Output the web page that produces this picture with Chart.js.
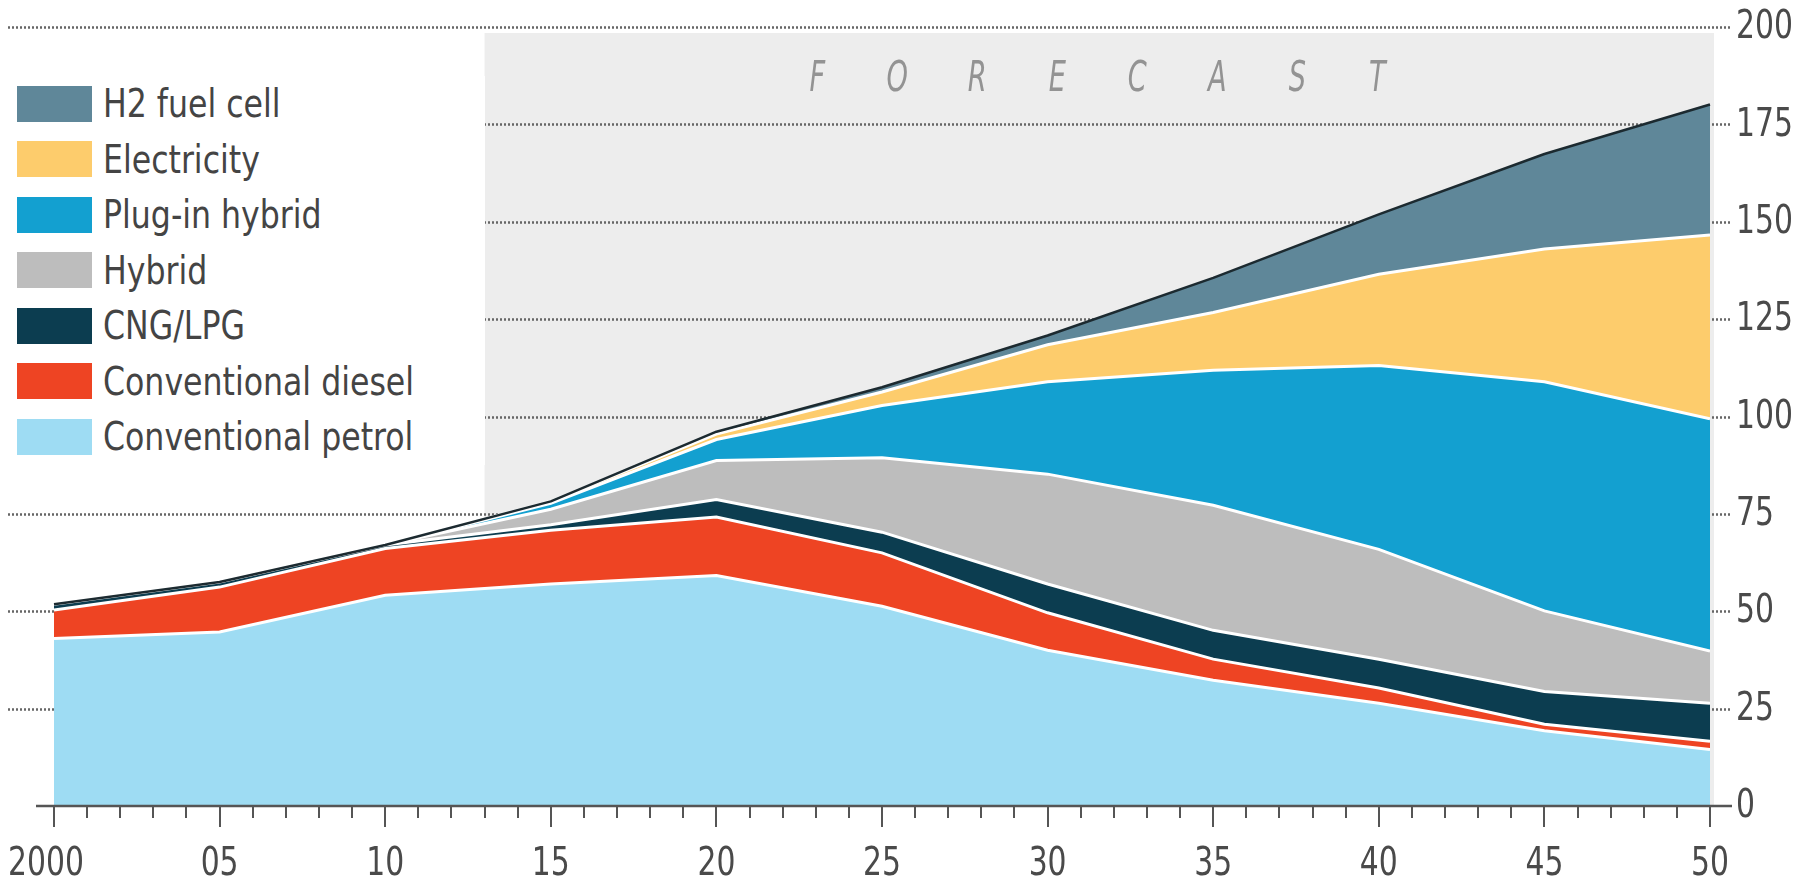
<!DOCTYPE html>
<html>
<head>
<meta charset="utf-8">
<script src="https://cdn.jsdelivr.net/npm/chart.js@4.4.1/dist/chart.umd.min.js"></script>
<style>
  body { margin: 0; background: #fff; }
  #wrap { position: relative; width: 1813px; height: 887px; }
  #legend {
    position: absolute; left: 0; top: 76px; background: #fff;
    font-family: "DejaVu Sans Condensed", "Liberation Sans Narrow", Roboto, sans-serif;
    font-size: 39px; color: #444;
  }
  .row { display: flex; align-items: center; height: 55.5px; white-space: nowrap; }
  .sw { width: 75px; height: 36px; margin-left: 17px; margin-right: 11px; flex: none; }
  .tx { display: inline-block; transform: scaleX(0.9); transform-origin: left center; }
</style>
</head>
<body>
<div id="wrap">
  <canvas id="chart" width="1813" height="887"></canvas>
  <div id="legend"></div>
</div>
<script>
// data (vehicles, m)
const years = [2000, 2005, 2010, 2015, 2020, 2025, 2030, 2035, 2040, 2045, 2050];
const xTickLabels = ["2000", "05", "10", "15", "20", "25", "30", "35", "40", "45", "50"];
const yTicks = [0, 25, 50, 75, 100, 125, 150, 175, 200];
const forecastStart = 2013;

const petrol      = [43, 44.7, 54.1, 57, 59.2, 51.3, 40, 32.3, 26.4, 19.3, 14.5];
const diesel      = [7.3, 11.5, 12, 13.8, 15, 13.7, 9.6, 5.4, 3.9, 1.7, 2.1];
const cngLpg      = [1.5, 1.3, 0.9, 1.4, 4.5, 5.3, 7.4, 7.4, 7.4, 8.4, 9.8];
const hybrid      = [0, 0, 0, 4, 10, 19.1, 28.2, 32.1, 28.2, 20.7, 13.4];
const plugIn      = [0, 0, 0, 1.5, 5.4, 13.4, 23.7, 34.7, 47.2, 58.8, 59.6];
const electricity = [0, 0, 0, 0.5, 1.4, 3.5, 9.5, 14.8, 23.4, 34.1, 47.2];
const h2          = [0, 0, 0, 0, 0.6, 1.2, 2.4, 8.9, 15.4, 24.4, 33.5];

const seriesNames  = ["Conventional petrol", "Conventional diesel", "CNG/LPG", "Hybrid", "Plug-in hybrid", "Electricity", "H2 fuel cell"];
const seriesValues = [petrol, diesel, cngLpg, hybrid, plugIn, electricity, h2];
const seriesColors = ["#9edcf3", "#ee4423", "#0c3d50", "#bdbdbd", "#13a0d0", "#fdcc6c", "#5f8799"];

const FONT = '"DejaVu Sans Condensed", "Liberation Sans Narrow", Roboto, sans-serif';

const datasets = seriesNames.map((name, i) => {
  const vals = seriesValues[i];
  const last = i === seriesNames.length - 1;
  return {
    label: name,
    data: years.map((y, j) => ({ x: y, y: vals[j] })),
    backgroundColor: seriesColors[i],
    borderColor: "#fff",
    borderWidth: last ? 0 : 3,
    fill: i === 0 ? "origin" : "-1",
    pointRadius: 0,
    tension: 0,
    segment: {
      borderColor: (ctx) =>
        vals[ctx.p0DataIndex] === 0 && vals[ctx.p1DataIndex] === 0 ? "rgba(0,0,0,0)" : "#fff",
    },
  };
});

// condensed text: draw with a horizontal squeeze
function squeezed(ctx, text, x, y, sx) {
  ctx.save();
  ctx.translate(x, y);
  ctx.scale(sx, 1);
  ctx.fillText(text, 0, 0);
  ctx.restore();
}

// forecast band, dotted grid, axis ticks, labels and total outline
const decor = {
  id: "decor",
  beforeDraw(chart) {
    const { ctx, chartArea, scales } = chart;
    const xs = scales.x, ys = scales.y;
    ctx.save();
    const fx = xs.getPixelForValue(forecastStart);
    const top = ys.getPixelForValue(200) + 6;
    ctx.fillStyle = "#ededed";
    ctx.fillRect(fx, top, xs.getPixelForValue(2050) + 4 - fx, ys.getPixelForValue(0) - top);

    ctx.strokeStyle = "#666";
    ctx.lineWidth = 2.5;
    ctx.setLineDash([2, 2]);
    yTicks.forEach((v) => {
      if (v === 0) return;
      const py = Math.round(ys.getPixelForValue(v)) + 0.5;
      ctx.beginPath();
      ctx.moveTo(8, py);
      ctx.lineTo(chartArea.right + 22, py);
      ctx.stroke();
    });
    ctx.setLineDash([]);

    ctx.fillStyle = "#939393";
    ctx.font = "italic 42px " + FONT;
    ctx.textAlign = "center";
    ctx.textBaseline = "middle";
    const word = "FORECAST";
    const mid = (fx + chartArea.right) / 2;
    const step = 80;
    for (let k = 0; k < word.length; k++) {
      squeezed(ctx, word[k], mid + (k - (word.length - 1) / 2) * step, 80, 0.72);
    }
    ctx.restore();
  },
  afterDatasetsDraw(chart) {
    const { ctx, chartArea, scales } = chart;
    const xs = scales.x, ys = scales.y;
    ctx.save();
    // outline of the total
    const meta = chart.getDatasetMeta(chart.data.datasets.length - 1);
    ctx.strokeStyle = "#1c2a30";
    ctx.lineWidth = 2.5;
    ctx.lineJoin = "round";
    ctx.beginPath();
    meta.data.forEach((p, i) => (i ? ctx.lineTo(p.x, p.y) : ctx.moveTo(p.x, p.y)));
    ctx.stroke();

    // x axis line and tick marks
    const by = ys.getPixelForValue(0);
    ctx.strokeStyle = "#555";
    ctx.lineWidth = 2.5;
    ctx.beginPath();
    ctx.moveTo(36, by);
    ctx.lineTo(chartArea.right + 22, by);
    ctx.stroke();
    ctx.lineWidth = 2;
    for (let yr = 2000; yr <= 2050; yr++) {
      const px = Math.round(xs.getPixelForValue(yr));
      ctx.beginPath();
      ctx.moveTo(px, by);
      ctx.lineTo(px, by + (yr % 5 === 0 ? 21 : 12));
      ctx.stroke();
    }

    // tick labels
    ctx.fillStyle = "#4a4a4a";
    ctx.font = "39px " + FONT;
    ctx.textBaseline = "middle";
    ctx.textAlign = "center";
    xs.ticks.forEach((t, i) => {
      const lab = xTickLabels[years.indexOf(t.value)];
      if (lab === undefined) return;
      const shift = i === 0 ? -8 : 0;
      squeezed(ctx, lab, xs.getPixelForTick(i) + shift, 865, 0.85);
    });
    ctx.textAlign = "left";
    yTicks.forEach((v) => {
      squeezed(ctx, String(v), chartArea.right + 26, ys.getPixelForValue(v) + 1, 0.85);
    });
    ctx.restore();
  },
};

const chart = new Chart(document.getElementById("chart"), {
  type: "line",
  data: { datasets },
  options: {
    responsive: false,
    animation: false,
    layout: { padding: { left: 54, top: 27, right: 0, bottom: 0 } },
    plugins: { legend: { display: false }, tooltip: { enabled: false } },
    scales: {
      x: {
        type: "linear",
        min: 2000,
        max: 2050,
        grid: { display: false, drawTicks: false },
        border: { display: false },
        ticks: { stepSize: 5, display: false },
        afterFit: (s) => { s.height = 81; s.paddingLeft = 0; s.paddingRight = 0; },
      },
      y: {
        position: "right",
        stacked: true,
        min: 0,
        max: 200,
        grid: { display: false, drawTicks: false },
        border: { display: false },
        ticks: { stepSize: 25, display: false },
        afterFit: (s) => { s.width = 103; s.paddingTop = 0; s.paddingBottom = 0; },
      },
    },
  },
  plugins: [decor],
});

// legend, top series first, white box masks the grid left of the forecast band
const legend = document.getElementById("legend");
legend.style.width = chart.scales.x.getPixelForValue(forecastStart) + "px";
for (let i = seriesNames.length - 1; i >= 0; i--) {
  const row = document.createElement("div");
  row.className = "row";
  row.innerHTML = `<span class="sw" style="background:${seriesColors[i]}"></span><span class="tx">${seriesNames[i]}</span>`;
  legend.appendChild(row);
}
</script>
</body>
</html>
